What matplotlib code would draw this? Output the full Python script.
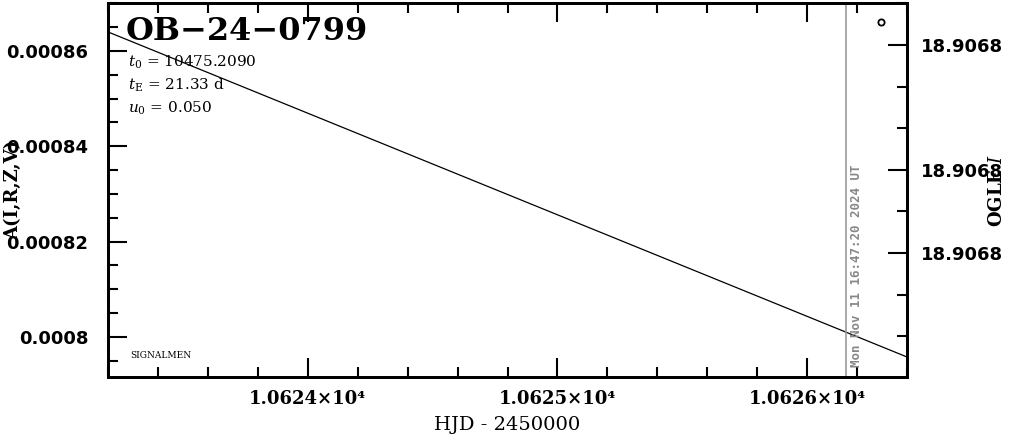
import numpy as np
import matplotlib
matplotlib.use("Agg")
import matplotlib.pyplot as plt
from matplotlib.ticker import MultipleLocator, FixedLocator, FuncFormatter

# ---- data ----
model_hjd = [10623.2, 10624.8, 10626.4]
model_flux = [0.000864, 0.0008299, 0.0007958]
ogle_hjd = [10626.297]
ogle_mag = [18.9067989]
now_hjd = 10626.157
now_label = "Mon Nov 11 16:47:20 2024 UT"
event_name = "OB\u221224\u22120799"
params = [r"$t_0$ = 10475.2090", r"$t_{\rm E}$ = 21.33 d", r"$u_0$ = 0.050"]
right_major = [18.906800, 18.906806, 18.906810]
right_minor = [18.906798, 18.906802, 18.906804, 18.906808, 18.906812, 18.906814]

plt.rcParams['mathtext.fontset'] = 'dejavuserif'

fig = plt.figure(figsize=(10.11, 4.34), dpi=100)
ax = fig.add_axes([108/1011, (434-377)/434, 799/1011, 374/434])

ax.plot(model_hjd, model_flux, color='black', lw=0.9)
ax.axvline(now_hjd, color='#999999', lw=1.2)

ax.set_xlim(10623.2, 10626.4)
ax.set_ylim(0.0007916, 0.00087007)

ax.xaxis.set_major_locator(MultipleLocator(1.0))
ax.xaxis.set_minor_locator(MultipleLocator(0.2))
ax.yaxis.set_major_locator(MultipleLocator(0.00002))
ax.yaxis.set_minor_locator(MultipleLocator(0.000005))

ax.xaxis.set_major_formatter(FuncFormatter(lambda v, p: f"{v/1e4:.4f}×10⁴"))
ax.yaxis.set_major_formatter(FuncFormatter(lambda v, p: f"{v:.5f}".rstrip('0')))

ax.tick_params(axis='both', which='both', direction='in', top=True, right=False, width=1.5)
ax.tick_params(axis='both', which='major', length=14)
ax.tick_params(axis='both', which='minor', length=7)
ax.tick_params(axis='x', which='major', pad=9)
ax.tick_params(axis='y', which='major', pad=14)
for lab in ax.get_xticklabels():
    lab.set_fontfamily('DejaVu Serif'); lab.set_fontsize(13); lab.set_fontweight('bold')
for lab in ax.get_yticklabels():
    lab.set_fontfamily('DejaVu Sans'); lab.set_fontsize(13); lab.set_fontweight('bold')
for s in ax.spines.values():
    s.set_linewidth(2)

ax.set_xlabel("HJD - 2450000", fontfamily='DejaVu Serif', fontsize=14)
ax.xaxis.set_label_coords(0.5, (377-416)/374)
ax.set_ylabel("A(I,R,Z,V)", fontfamily='DejaVu Serif', fontsize=13, fontweight='bold')
ax.yaxis.set_label_coords((22-108)/799, 0.5)

# right axis
ax2 = ax.twinx()
ax2.set_ylim(18.906815962, 18.906797981)
ax2.yaxis.set_major_locator(FixedLocator(right_major))
ax2.yaxis.set_minor_locator(FixedLocator(right_minor))
ax2.yaxis.set_major_formatter(FuncFormatter(lambda v, p: f"{v:.4f}"))
ax2.tick_params(axis='y', which='both', direction='in', width=1.5)
ax2.tick_params(axis='y', which='major', length=14, pad=10)
ax2.tick_params(axis='y', which='minor', length=7)
for lab in ax2.get_yticklabels():
    lab.set_fontfamily('DejaVu Sans'); lab.set_fontsize(13); lab.set_fontweight('bold')
ax2.set_ylabel("OGLE $\\mathit{I}$", fontfamily='DejaVu Serif', fontsize=13, fontweight='bold')
ax2.yaxis.set_label_coords((988-108)/799, 0.5)
ax2.plot(ogle_hjd, ogle_mag, 'o', ms=4.5, mfc='none', mec='black', mew=1.3)
for s in ax2.spines.values():
    s.set_linewidth(2)

# texts
ax.text((126-108)/799, (377-31)/374, event_name, transform=ax.transAxes,
        fontfamily='DejaVu Serif', fontweight='bold', fontsize=23, va='center', ha='left')
for i, t in enumerate(params):
    ax.text((128-108)/799, (377-(62+23*i))/374, t, transform=ax.transAxes,
            fontfamily='DejaVu Serif', fontsize=11, va='center', ha='left')
ax.text((130-108)/799, (377-355)/374, "SIGNALMEN", transform=ax.transAxes,
        fontfamily='DejaVu Serif', fontsize=6.5, va='center', ha='left')
ax.text(now_hjd + 0.04, (377-367)/374, now_label, transform=ax.get_xaxis_transform(),
        rotation=90, color='#888888', fontfamily='DejaVu Sans Mono', fontweight='bold',
        fontsize=9, va='bottom', ha='center')

fig.savefig("out.png", dpi=100)
